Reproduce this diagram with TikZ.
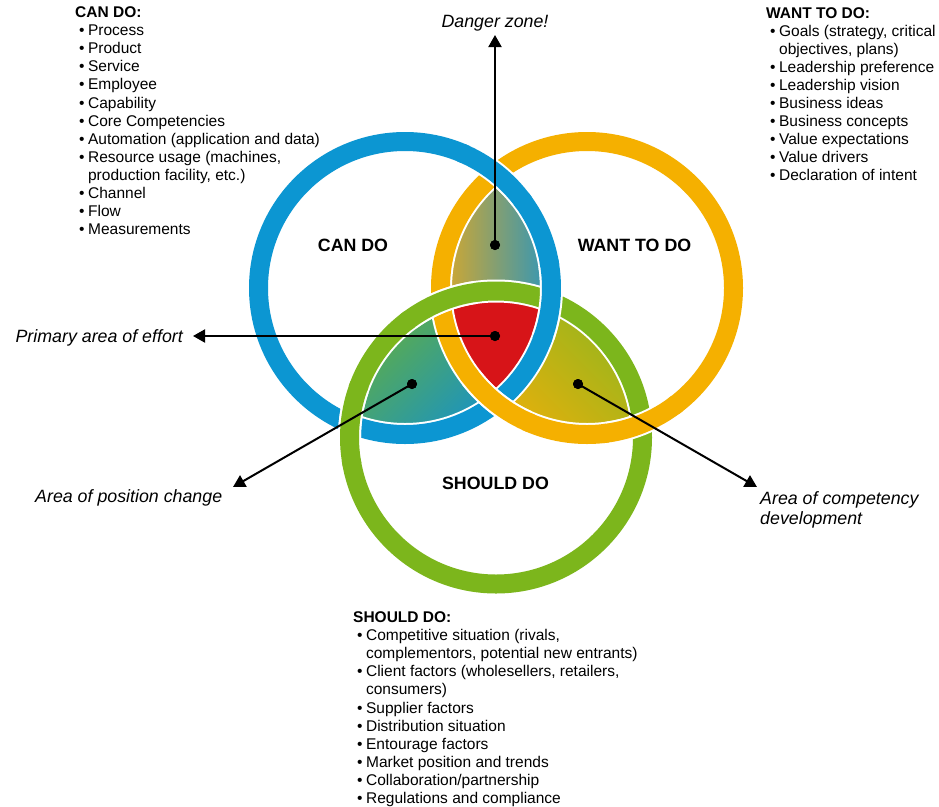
\documentclass[tikz,border=0pt]{standalone}
\usepackage{fontspec}
\setmainfont{Liberation Sans}
\usetikzlibrary{arrows.meta}
\definecolor{cblue}{RGB}{12,150,210}
\definecolor{corange}{RGB}{245,176,0}
\definecolor{cgreen}{RGB}{124,182,28}
\definecolor{cred}{RGB}{215,20,24}
\definecolor{lensA}{RGB}{214,168,44}
\definecolor{lensB}{RGB}{48,150,185}
\definecolor{lgreen}{RGB}{100,175,62}
\definecolor{lteal}{RGB}{28,148,190}
\definecolor{rolive}{RGB}{145,182,30}
\definecolor{ryellow}{RGB}{226,176,12}
\newcommand\ringR{146.5}
\newcommand\ringarc[3]{%
  \draw[casing] ([shift={(#2-14:\ringR)}]#1) arc[start angle=#2-14, end angle=#2+14, radius=\ringR];
  \draw[band=#3] ([shift={(#2-16:\ringR)}]#1) arc[start angle=#2-16, end angle=#2+16, radius=\ringR];}
\newcommand\bul{\hspace*{4pt}\textbullet\hspace*{3.5pt}}
\newcommand\cnt{\hspace*{4pt}\phantom{\textbullet}\hspace*{3.5pt}}
\tikzset{
  casing/.style={white, line width=23pt},
  band/.style={#1, line width=19pt},
  listtxt/.style={font=\fontsize{15.5}{18.1}\selectfont, align=left, anchor=north west, inner sep=0pt},
  ringlbl/.style={font=\fontsize{17.8}{20}\selectfont\bfseries, inner sep=0pt, anchor=base},
  callout/.style={font=\fontsize{17.8}{20}\selectfont\itshape, inner sep=0pt, align=left},
  arr/.style={line width=2pt, -{Triangle[length=12pt,width=13pt]}},
  dot/.style={circle, fill=black, inner sep=0pt, minimum size=10pt},
}
\begin{document}
\begin{tikzpicture}[x=1pt, y=-1pt]
\useasboundingbox (0,0) rectangle (939,806);
\fill[white] (0,0) rectangle (939,806);
\coordinate (cB) at (405,288);
\coordinate (cO) at (587,288);
\coordinate (cG) at (496,437.5);
% lens fills
\begin{scope}
  \clip (cB) circle[radius=\ringR];
  \clip (cO) circle[radius=\ringR];
  \shade[left color=lensA, right color=lensB] (442,165) rectangle (550,310);
\end{scope}
\begin{scope}
  \clip (cB) circle[radius=\ringR];
  \clip (cG) circle[radius=\ringR];
  \shade[top color=lgreen, bottom color=lteal, shading angle=45] (350,295) rectangle (500,435);
\end{scope}
\begin{scope}
  \clip (cO) circle[radius=\ringR];
  \clip (cG) circle[radius=\ringR];
  \shade[top color=rolive, bottom color=ryellow, shading angle=-45] (492,295) rectangle (642,435);
\end{scope}
\begin{scope}
  \clip (cB) circle[radius=\ringR];
  \clip (cO) circle[radius=\ringR];
  \clip (cG) circle[radius=\ringR];
  \fill[cred] (430,280) rectangle (560,420);
\end{scope}
% rings
\foreach \c/\col in {cB/cblue, cO/corange, cG/cgreen} {
  \draw[casing] (\c) circle[radius=\ringR];
  \draw[band=\col] (\c) circle[radius=\ringR];
}
% over-crossings
\ringarc{cB}{-51.6}{cblue}
\ringarc{cO}{128.4}{corange}
\ringarc{cB}{5.3}{cblue}
\ringarc{cG}{185.3}{cgreen}
\ringarc{cG}{-112}{cgreen}
\ringarc{cO}{68}{corange}
% ring labels
\node[ringlbl] (lcan) at (353,251.7) {CAN DO};
\node[ringlbl] (lwant) at (634.5,251.7) {WANT TO DO};
\node[ringlbl] (lshould) at (495.5,489.3) {SHOULD DO};
% dots
\node[dot] (dT) at (495,245) {};
\node[dot] (dC) at (495,336) {};
\node[dot] (dL) at (412,384) {};
\node[dot] (dR) at (578,384) {};
% callouts
\node[callout, anchor=base] (danger) at (495,27) {Danger zone!};
\node[callout, anchor=base east] (prim) at (183,342) {Primary area of effort};
\node[callout, anchor=base west] (pos) at (35,502) {Area of position change};
\node[callout, anchor=north west] (comp) at (760,491) {Area of competency\\development};
\coordinate (tT) at (495,35);
\coordinate (tP) at (193,336);
\coordinate (tL) at (233,487);
\coordinate (tR) at (757,487);
\draw[arr] (dT.center) -- (tT);
\draw[arr] (dC.center) -- (tP);
\draw[arr] (dL.center) -- (tL);
\draw[arr] (dR.center) -- (tR);
\node[dot] at (dT) {};
\node[dot] at (dC) {};
\node[dot] at (dL) {};
\node[dot] at (dR) {};
% lists
\node[listtxt] (lcanlist) at (75,6.5) {\textbf{CAN DO:}\\
\bul Process\\ \bul Product\\ \bul Service\\ \bul Employee\\ \bul Capability\\
\bul Core Competencies\\ \bul Automation (application and data)\\
\bul Resource usage (machines,\\ \cnt production facility, etc.)\\
\bul Channel\\ \bul Flow\\ \bul Measurements};
\node[listtxt] (lwantlist) at (766,7) {\textbf{WANT TO DO:}\\
\bul Goals (strategy, critical\\ \cnt objectives, plans)\\
\bul Leadership preference\\ \bul Leadership vision\\ \bul Business ideas\\
\bul Business concepts\\ \bul Value expectations\\ \bul Value drivers\\
\bul Declaration of intent};
\node[listtxt] (lshouldlist) at (353,611.5) {\textbf{SHOULD DO:}\\
\bul Competitive situation (rivals,\\ \cnt complementors, potential new entrants)\\
\bul Client factors (wholesellers, retailers,\\ \cnt consumers)\\
\bul Supplier factors\\ \bul Distribution situation\\ \bul Entourage factors\\
\bul Market position and trends\\ \bul Collaboration/partnership\\
\bul Regulations and compliance};
\end{tikzpicture}
\end{document}
